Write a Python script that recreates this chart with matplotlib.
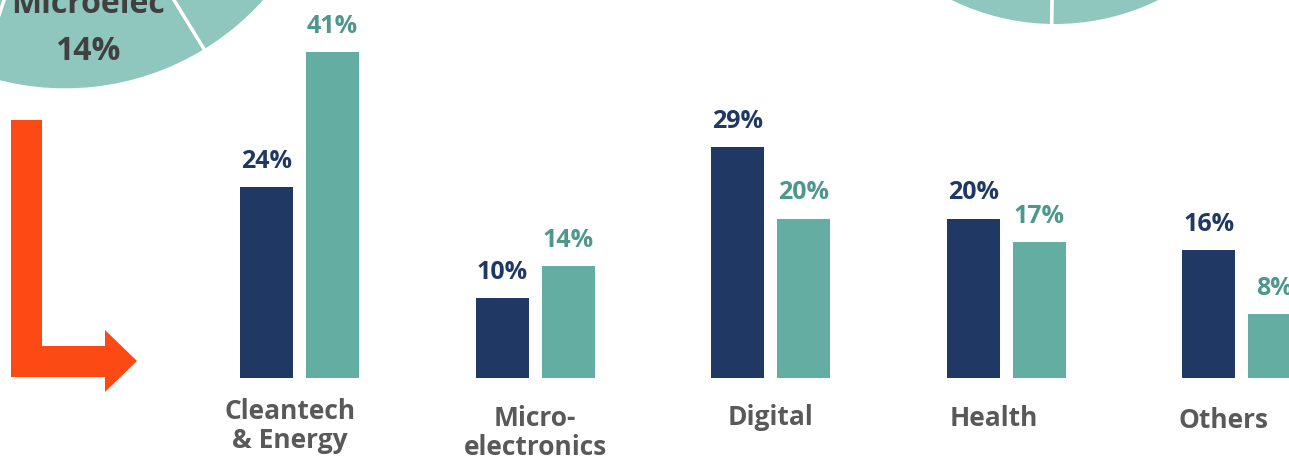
import numpy as np
import matplotlib
matplotlib.use("Agg")
import matplotlib.pyplot as plt
from matplotlib.patches import Polygon, Circle

# Data
categories = ["Cleantech\n& Energy", "Micro-\nelectronics", "Digital", "Health", "Others"]
share_a = [24, 10, 29, 20, 16]   # dark blue bars
share_b = [41, 14, 20, 17, 8]    # teal bars
pie_label = "Microelec"
pie_share = 14

# Colours
navy = "#203864"
teal = "#64ADA2"
teal_text = "#4E978C"
pie_color = "#8FC6BD"
grey_text = "#595959"
dark_text = "#404040"
arrow_color = "#FD4A14"

font = ["Open Sans", "DejaVu Sans"]

# label nudges (pixels) relative to the group centre / bar baseline
# (dy is to the baseline of the last line of each label)
label_dx = [-9.5, 0, -0.7, -12, -18.4]
label_dy = [69.5, 76.5, 46.5, 47.5, 49.5]

W, H = 1289, 460
fig = plt.figure(figsize=(W / 100, H / 100), dpi=100)

# ----------------- background decoration (pixel units, y up) -----------------
deco = fig.add_axes([0, 0, 1, 1])

# pie fragment top-left
deco.pie([pie_share, 100 - pie_share], center=(65, H + 177), radius=268,
         startangle=-108.9, counterclock=True, colors=[pie_color, pie_color],
         wedgeprops=dict(edgecolor="white", linewidth=2.4), frame=True)
deco.text(88, H - 13, pie_label, ha="center", va="baseline", fontsize=23,
          fontweight="bold", color=dark_text, family=font)
deco.text(88, H - 60, f"{pie_share}%", ha="center", va="baseline", fontsize=23,
          fontweight="bold", color=dark_text, family=font)

# pie fragment top-right
deco.add_patch(Circle((1055, H + 210), 235, facecolor=pie_color, edgecolor="none"))
deco.plot([1055, 1051.5], [H + 210, H - 40], color="white", lw=2.6)

# orange elbow arrow
arrow_px = [(11, 121), (42, 121), (42, 347), (105, 347), (105, 331),
            (137, 362), (105, 393), (105, 378), (11, 378)]
deco.add_patch(Polygon([(px, H - py) for px, py in arrow_px], closed=True,
                       facecolor=arrow_color, edgecolor="none"))

deco.set_xlim(0, W)
deco.set_ylim(0, H)
deco.set_aspect("auto")
deco.axis("off")

# ----------------- bar chart -----------------
ax = fig.add_axes([0, 0, 1, 1])
ax.patch.set_alpha(0)

x = np.arange(len(categories))
off = 0.14
width = 0.225
ax.bar(x - off, share_a, width=width, color=navy)
ax.bar(x + off, share_b, width=width, color=teal)

for xi, v in zip(x, share_a):
    ax.annotate(f"{v}%", xy=(xi - off, v), xytext=(0, 14.4), textcoords="offset points",
                ha="center", va="baseline", fontsize=18, fontweight="bold",
                color=navy, family=font)
for xi, v in zip(x, share_b):
    ax.annotate(f"{v}%", xy=(xi + off, v), xytext=(0, 14.4), textcoords="offset points",
                ha="center", va="baseline", fontsize=18, fontweight="bold",
                color=teal_text, family=font)

for xi, cat, dx, dy in zip(x, categories, label_dx, label_dy):
    ax.annotate(cat, xy=(xi, 0), xytext=(dx * 0.72, -dy * 0.72), textcoords="offset points",
                ha="center", va="baseline", multialignment="center", linespacing=1.1,
                fontsize=19, fontweight="bold", color=grey_text, family=font)

px_per_group = 235.6
px_per_pct = 7.95
base_px = 378.5
ax.set_xlim(-299.5 / px_per_group, (W - 299.5) / px_per_group)
ax.set_ylim(-(H - base_px) / px_per_pct, base_px / px_per_pct)
ax.axis("off")

fig.savefig("out.png", dpi=100)
